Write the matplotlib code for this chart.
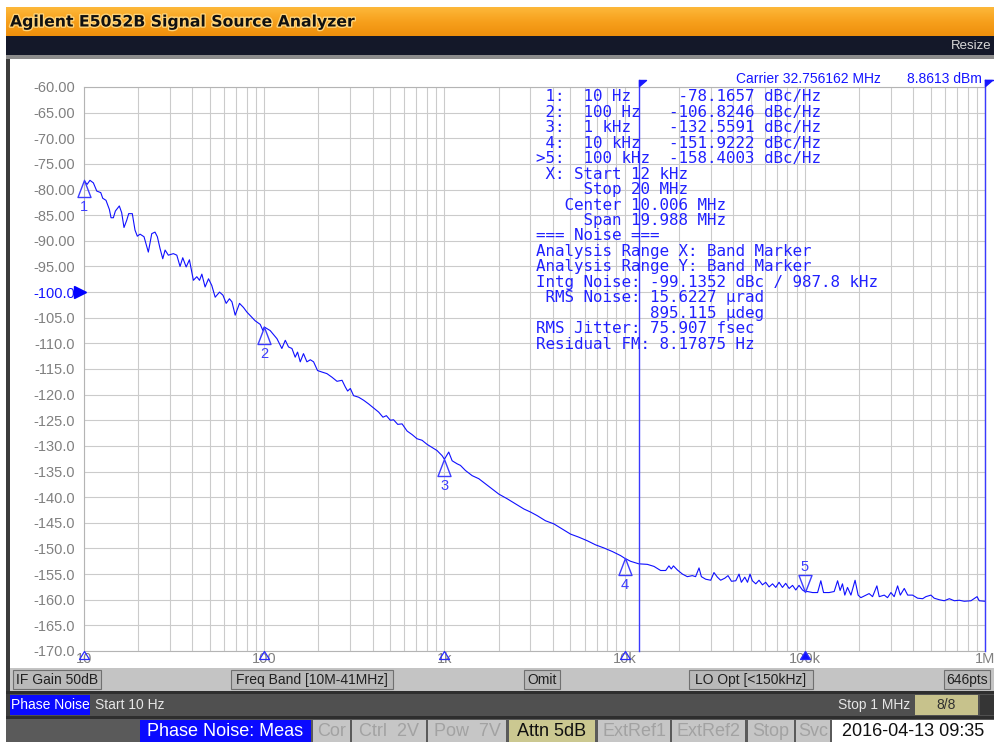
import numpy as np
import matplotlib
matplotlib.use("Agg")
import matplotlib.pyplot as plt
from matplotlib.patches import Rectangle
from matplotlib.path import Path
from matplotlib.colors import LinearSegmentedColormap
from matplotlib.ticker import FixedLocator, NullFormatter
import matplotlib.patheffects as pe
import matplotlib.transforms as mtransforms

W, H = 995, 742

# trace: log10(offset frequency / Hz), phase noise in dBc/Hz
log_freq = [
    1.000, 1.017, 1.033, 1.052, 1.071, 1.093, 1.104, 1.122, 1.141, 1.150,
    1.163, 1.174, 1.196, 1.209, 1.222, 1.237, 1.248, 1.268, 1.283, 1.296,
    1.311, 1.333, 1.357, 1.376, 1.394, 1.407, 1.422, 1.437, 1.450, 1.468,
    1.496, 1.515, 1.533, 1.548, 1.567, 1.585, 1.607, 1.626, 1.641, 1.654,
    1.672, 1.691, 1.709, 1.728, 1.752, 1.771, 1.789, 1.807, 1.821, 1.839,
    1.863, 1.885, 1.904, 1.926, 1.950, 1.978, 1.993, 2.000,
    2.033, 2.071, 2.098, 2.117, 2.135, 2.154, 2.172, 2.185, 2.200, 2.218,
    2.237, 2.256, 2.274, 2.296, 2.321, 2.348, 2.376, 2.404, 2.432, 2.450,
    2.463, 2.478, 2.496, 2.524, 2.552, 2.579, 2.607, 2.635, 2.659, 2.678,
    2.700, 2.718, 2.741, 2.765, 2.793, 2.821, 2.848, 2.876, 2.904, 2.932,
    2.959, 2.987, 3.000, 3.024,
    3.043, 3.071, 3.089, 3.117, 3.154, 3.191, 3.228, 3.265, 3.302, 3.348,
    3.394, 3.441, 3.478, 3.515, 3.561, 3.607, 3.654, 3.700, 3.746, 3.793,
    3.839, 3.885, 3.932, 3.978, 4.000,
    4.033, 4.079, 4.126, 4.163, 4.200, 4.228, 4.246, 4.259, 4.271, 4.293,
    4.321, 4.348, 4.376, 4.394, 4.413, 4.426, 4.450, 4.478, 4.496, 4.515,
    4.533, 4.556, 4.574, 4.593, 4.617, 4.635, 4.648, 4.667, 4.682, 4.696,
    4.709, 4.728, 4.746, 4.765, 4.783, 4.802, 4.821, 4.839, 4.857, 4.876,
    4.894, 4.913, 4.932, 4.950, 4.968, 4.987, 5.000, 5.015, 5.043, 5.071,
    5.089, 5.104, 5.135, 5.163, 5.182, 5.196, 5.209, 5.222, 5.237, 5.256,
    5.279, 5.296, 5.311, 5.339, 5.357, 5.376, 5.400, 5.413, 5.441, 5.459,
    5.478, 5.496, 5.515, 5.530, 5.552, 5.571, 5.598, 5.626, 5.654, 5.672,
    5.700, 5.718, 5.746, 5.774, 5.802, 5.830, 5.857, 5.885, 5.922, 5.956,
    5.968, 5.996, 6.000,
]
noise_dbc = [
    -78.2, -79.0, -78.2, -78.7, -80.3, -80.6, -81.7, -82.1, -83.9, -85.5,
    -85.5, -84.2, -83.2, -84.5, -87.4, -86.0, -84.7, -84.7, -87.9, -89.1,
    -88.7, -89.2, -92.2, -88.6, -88.3, -89.2, -91.5, -93.5, -91.8, -92.8,
    -92.5, -92.8, -95.0, -93.3, -95.1, -93.7, -97.7, -97.0, -97.7, -96.5,
    -99.0, -97.4, -98.7, -101.0, -100.0, -100.6, -102.2, -101.3, -101.9, -104.5,
    -102.2, -103.0, -103.9, -104.7, -105.6, -106.3, -107.5, -106.8,
    -107.5, -109.1, -111.0, -109.4, -110.7, -111.0, -112.7, -111.7, -113.6, -112.0,
    -113.6, -113.2, -113.6, -115.3, -115.6, -115.9, -116.6, -117.4, -117.2, -118.5,
    -119.3, -118.8, -120.2, -120.5, -121.1, -121.8, -122.6, -123.4, -124.4, -124.1,
    -125.0, -124.9, -125.8, -125.7, -127.1, -127.8, -128.6, -128.9, -129.7, -130.3,
    -130.9, -131.9, -132.6, -131.2,
    -132.9, -133.5, -133.8, -134.8, -135.8, -136.4, -137.4, -138.4, -139.4, -140.3,
    -141.3, -142.3, -142.9, -143.6, -144.6, -145.2, -146.2, -147.2, -147.8, -148.5,
    -149.3, -149.9, -150.6, -151.4, -151.9,
    -152.5, -153.0, -153.1, -153.5, -154.3, -154.3, -153.4, -154.0, -153.4, -154.2,
    -155.0, -155.5, -155.3, -155.5, -153.8, -155.5, -156.0, -156.2, -154.7, -155.6,
    -156.2, -155.8, -155.3, -156.4, -156.3, -155.0, -156.6, -155.6, -156.6, -155.0,
    -156.3, -156.9, -156.2, -157.1, -156.6, -157.5, -156.9, -157.6, -156.6, -157.6,
    -156.8, -157.8, -157.2, -158.1, -157.2, -158.1, -158.4, -158.4, -158.6, -158.6,
    -156.3, -158.6, -158.6, -158.4, -156.3, -158.2, -156.9, -159.1, -157.6, -159.1,
    -156.2, -159.1, -159.6, -159.1, -158.8, -159.4, -157.3, -159.4, -159.1, -159.6,
    -158.6, -159.4, -157.3, -159.1, -157.8, -159.1, -159.1, -159.7, -159.8, -159.4,
    -159.1, -159.7, -160.0, -160.2, -159.8, -160.2, -160.1, -160.3, -160.2, -159.4,
    -160.2, -160.3, -160.3,
]

marker_freq = [10, 100, 1e3, 1e4, 1e5]
marker_dbc = [-78.1657, -106.8246, -132.5591, -151.9222, -158.4003]
active_marker = 4
band_freq = [12e3, 1e6]   # band stop (20 MHz) is off screen, shown at the right edge
ref_level = -100

y_ticks = list(range(-170, -55, 5))
x_ticks = [10, 100, 1e3, 1e4, 1e5, 1e6]
x_tick_labels = ["10", "100", "1k", "10k", "100k", "1M"]

marker_lines = [
    " 1:  10 Hz     -78.1657 dBc/Hz",
    " 2:  100 Hz   -106.8246 dBc/Hz",
    " 3:  1 kHz    -132.5591 dBc/Hz",
    " 4:  10 kHz   -151.9222 dBc/Hz",
    ">5:  100 kHz  -158.4003 dBc/Hz",
    " X: Start 12 kHz",
    "     Stop 20 MHz",
    "   Center 10.006 MHz",
    "     Span 19.988 MHz",
    "=== Noise ===",
    "Analysis Range X: Band Marker",
    "Analysis Range Y: Band Marker",
    "Intg Noise: -99.1352 dBc / 987.8 kHz",
    " RMS Noise: 15.6227 µrad",
    "            895.115 µdeg",
    "RMS Jitter: 75.907 fsec",
    "Residual FM: 8.17875 Hz",
]

BLUE = "#1414ff"
SANS = "Liberation Sans"
PT = 0.72  # points per pixel at dpi 100

fig = plt.figure(figsize=(W / 100, H / 100), dpi=100)

# --- window chrome (pixel coordinates) ---
bg = fig.add_axes([0, 0, 1, 1])
bg.axis("off")


def box(x0, y0, x1, y1, fc, ec="none", lw=0.0, ax=bg):
    ax.add_patch(Rectangle((x0, y0), x1 - x0, y1 - y0, fc=fc, ec=ec, lw=lw))


orange = LinearSegmentedColormap.from_list("o", ["#fdb83a", "#f7a01c", "#ee8f0c"])
bg.imshow(np.linspace(0, 1, 40).reshape(-1, 1), cmap=orange, aspect="auto",
          extent=(6, W, 36, 7), zorder=1)
box(6, 36, W, 55, "#141829")
box(6, 55, W, 59, "#8c8c8c")
box(6, 59, 10, 718, "#3c3c3c")
box(10, 59, W, 668, "white")
box(10, 668, W, 691, "#c4c4c4")
box(6, 691, W, 694, "#2e2e2e")
box(10, 694, W, 716, "#505050")
box(6, 716, W, 719, "#2e2e2e")
box(6, 719, W, H, "#5a5a5a")
bg.set_xlim(0, W)
bg.set_ylim(H, 0)

# --- the measurement plot ---
ax = fig.add_axes([84 / W, 1 - 651 / H, (985 - 84) / W, (651 - 87) / H])
ax.set_facecolor("none")
ax.set_xscale("log")
ax.set_xlim(10, 1e6)
ax.set_ylim(-170, -60)

ax.xaxis.set_major_locator(FixedLocator(x_ticks))
ax.xaxis.set_minor_locator(FixedLocator(
    [m * 10.0 ** d for d in range(1, 6) for m in range(2, 10)]))
ax.xaxis.set_minor_formatter(NullFormatter())
ax.set_xticklabels(x_tick_labels)
ax.set_yticks(y_ticks)
ax.set_yticklabels([f"{v:.2f}" if v > -100 else f"{v:.1f}" for v in y_ticks])
ax.tick_params(which="both", length=0)
ax.tick_params(axis="y", pad=6.5, labelsize=10.5, labelcolor="#808080")
ax.tick_params(axis="x", pad=0.5, labelsize=10.5, labelcolor="#808080")
for lab in ax.get_xticklabels() + ax.get_yticklabels():
    lab.set_fontfamily(SANS)
for lab, v in zip(ax.get_yticklabels(), y_ticks):
    lab.set_color(BLUE if v == ref_level else "#808080")
ax.grid(True, which="both", color="#cbcbcb", lw=0.8)
for s in ax.spines.values():
    s.set_color("#b4b4b4")
    s.set_linewidth(0.8)

freq = 10 ** np.array(log_freq)
ax.plot(freq, noise_dbc, color="#0f0fff", lw=0.8, zorder=3)

# band marker lines, running a little above the graticule
for bf in band_freq:
    ax.axvline(bf, ymin=0, ymax=1 + 7 / 564, color="#3a3aff", lw=1.0,
               clip_on=False, zorder=4)
flag = Path([(0, 7), (7, 7), (0, 1), (0, 7)], closed=True)
ax.plot(band_freq, [-60, -60], ls="none", marker=flag, ms=2 * 7 * PT,
        color="#1a1aff", clip_on=False, zorder=4)

# markers: apex of the triangle sits on the trace
tri_up = Path([(0, 0), (-6.5, -17), (6.5, -17), (0, 0)], closed=True)
tri_dn = Path([(0, 0), (-6.5, 17), (6.5, 17), (0, 0)], closed=True)
for i, (mf, mv) in enumerate(zip(marker_freq, marker_dbc)):
    active = i == active_marker
    ax.plot([mf], [mv], ls="none", marker=tri_dn if active else tri_up,
            ms=2 * 17 * PT, mfc="none", mec="#3c3cff", mew=1.0,
            clip_on=False, zorder=5)
    ax.annotate(str(i + 1), (mf, mv), xytext=(0, (25 if active else -27) * PT),
                textcoords="offset points", ha="center", va="center",
                color="#3c3cff", fontsize=10.5, family=SANS,
                annotation_clip=False, zorder=5)

# small marker tags on the frequency axis
tag = Path([(0, 0), (-5, -8), (5, -8), (0, 0)], closed=True)
for i, mf in enumerate(marker_freq):
    active = i == active_marker
    ax.plot([mf], [-170], ls="none", marker=tag, ms=2 * 8 * PT,
            mfc="#1010ff" if active else "none", mec="#2a2aff", mew=0.9,
            clip_on=False, zorder=5)

# reference level arrow
ref_tr = mtransforms.offset_copy(ax.transData, fig=fig, x=-3.5, y=0, units="dots")
ax.plot([10], [ref_level], ls="none", marker=">", ms=8, color="#0000ff",
        transform=ref_tr, clip_on=False, zorder=5)

# --- overlay texts (pixel coordinates) ---
top = fig.add_axes([0, 0, 1, 1], zorder=10)
top.set_facecolor("none")
top.axis("off")
top.set_xlim(0, W)
top.set_ylim(H, 0)

top.text(10, 22, "Agilent E5052B Signal Source Analyzer", fontsize=11.3,
         fontweight="bold", family="DejaVu Sans", color="#101010", va="center",
         path_effects=[pe.withStroke(linewidth=2, foreground="#ffd47a")])
top.text(992, 46, "Resize", fontsize=9.5, family=SANS, color="#d8d8d8",
         ha="right", va="center")

top.text(736, 79, "Carrier 32.756162 MHz", fontsize=10, family=SANS,
         color=BLUE, va="center")
top.text(907, 79, "8.8613 dBm", fontsize=10, family=SANS, color=BLUE,
         va="center")
top.plot([985, 995], [80, 80], color=BLUE, lw=1)

for i, line in enumerate(marker_lines):
    top.text(536, 97 + i * 15.44, line, fontsize=11.4, family="DejaVu Sans Mono",
             color="#2020ff", va="center")

# status line 1
for x0, x1, label in [(13, 101, "IF Gain 50dB"), (231, 393, "Freq Band [10M-41MHz]"),
                      (524, 560, "Omit"), (689, 813, "LO Opt [<150kHz]"),
                      (944, 990, "646pts")]:
    box(x0, 670, x1, 689, "#b9b9b9", ec="#707070", lw=0.8, ax=top)
    top.text((x0 + x1) / 2, 680, label, fontsize=10, family=SANS,
             color="#202020", ha="center", va="center")

# status line 2
box(10, 695, 90, 715, "#0a0aff", ax=top)
top.text(50, 705, "Phase Noise", fontsize=10, family=SANS, color="white",
         ha="center", va="center")
top.text(95, 705, "Start 10 Hz", fontsize=10, family=SANS, color="#e6e6e6",
         va="center")
top.text(910, 705, "Stop 1 MHz", fontsize=10, family=SANS, color="#e6e6e6",
         ha="right", va="center")
box(915, 695, 978, 715, "#c7c28c", ax=top)
top.text(946, 705, "8/8", fontsize=10, family=SANS, color="#303030",
         ha="center", va="center")
box(980, 695, W, 715, "#353535", ax=top)

# soft key line
keys = [(140, 311, "Phase Noise: Meas", "#0a0aff", "white"),
        (313, 350, "Cor", "#c6c6c6", "#a2a2a2"),
        (352, 426, "Ctrl  2V", "#c6c6c6", "#a2a2a2"),
        (428, 506, "Pow  7V", "#c6c6c6", "#a2a2a2"),
        (509, 595, "Attn 5dB", "#cbc891", "#101010"),
        (598, 670, "ExtRef1", "#c6c6c6", "#a2a2a2"),
        (672, 745, "ExtRef2", "#c6c6c6", "#a2a2a2"),
        (748, 794, "Stop", "#c6c6c6", "#a2a2a2"),
        (796, 830, "Svc", "#c6c6c6", "#a2a2a2"),
        (832, W, "2016-04-13 09:35", "white", "#101010")]
for x0, x1, label, fc, tc in keys:
    box(x0, 720, x1, H, fc, ax=top)
    top.text((x0 + x1) / 2, 732, label, fontsize=13, family=SANS, color=tc,
             ha="center", va="center")

fig.savefig("out.png", dpi=100)
